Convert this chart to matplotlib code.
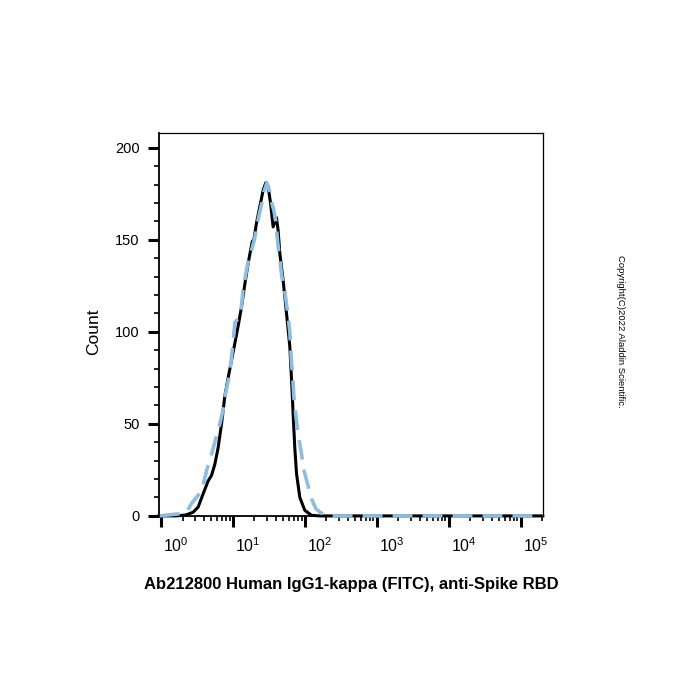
import numpy as np
import matplotlib
matplotlib.use("Agg")
import matplotlib.pyplot as plt
import matplotlib.transforms as mtrans
from matplotlib.ticker import LogLocator, MultipleLocator, FixedLocator

plt.rcParams['font.family'] = ['Liberation Sans', 'DejaVu Sans']
plt.rcParams['mathtext.fontset'] = 'custom'
plt.rcParams['mathtext.rm'] = 'Liberation Sans'
plt.rcParams['mathtext.it'] = 'Liberation Sans'

# sample (black, solid) - fluorescence intensity vs count
black_x = [0.94, 1.62, 2.22, 2.81, 3.30, 3.87, 4.54, 5.06, 5.62, 6.25, 6.97, 7.74, 8.61, 9.59,
           10.7, 11.9, 13.2, 14.7, 16.3, 17.6, 18.6, 19.6, 21.3, 23.7, 26.4, 28.7, 30.9, 33.4,
           36.3, 40.4, 42.6, 45.0, 50.0, 55.7, 61.9, 65.4, 68.8, 72.6, 76.7, 85.3, 100, 124,
           161, 202000]
black_y = [0, 0, 0.5, 2, 4.8, 12, 19, 22, 28, 37, 50, 65, 75, 84.5,
           94, 103.5, 113.5, 126, 137, 144, 149, 150, 159, 168, 177, 181, 179, 170,
           157, 162, 155, 142.5, 128, 110, 92, 74, 55.5, 37, 23, 10, 3, 0.3,
           0, 0]

# isotype / reference (light blue, dashed)
blue_x = [0.97, 2.22, 2.70, 3.27, 3.83, 4.35, 4.95, 5.62, 6.60, 7.27, 8.00, 8.80, 9.53, 10.0,
          10.7, 11.7, 12.9, 13.8, 15.4, 16.7, 18.4, 20.2, 22.2, 25.3, 27.0, 29.7, 32.6, 34.8,
          37.1, 39.5, 42.2, 48.0, 52.7, 58.0, 61.9, 64.9, 68.1, 70.3, 75.0, 80.0, 88.0, 96.8,
          110, 125, 142, 162, 196, 261, 202000]
blue_y = [0, 1.5, 7, 11, 16, 25, 32, 40, 50, 57, 67, 75, 85, 93,
          105, 107, 110, 122, 133, 140, 145, 151, 160, 170, 176, 181, 176, 170,
          166, 160, 148, 130, 122, 110, 100, 85, 75, 65, 55, 45, 36, 25,
          17, 9, 4, 2, 0.3, 0, 0]

y_major = [0, 50, 100, 150, 200]
x_decades = [1, 10, 100, 1000, 10000, 100000]
x_labels = [r'$10^{0}$', r'$10^{1}$', r'$10^{2}$', r'$10^{3}$', r'$10^{4}$', r'$10^{5}$']

fig = plt.figure(figsize=(7, 7), dpi=100)
ax = fig.add_axes([0.227, 0.263, 0.549, 0.547])

ax.plot(black_x, black_y, color='black', lw=2.2, zorder=3, clip_on=False)
ax.plot(blue_x, blue_y, color='#8dbde0', lw=2.6, ls=(0, (5.5, 2.8)), zorder=4, clip_on=False)

ax.set_xscale('log')
ax.set_xlim(0.94, 2.05e5)
ax.set_ylim(0, 208)

ax.xaxis.set_major_locator(FixedLocator(x_decades))
ax.set_xticklabels(x_labels, fontsize=11.5)
ax.xaxis.set_minor_locator(LogLocator(base=10, subs=np.arange(2, 10), numticks=20))
ax.xaxis.set_minor_formatter(matplotlib.ticker.NullFormatter())
ax.yaxis.set_major_locator(FixedLocator(y_major))
ax.yaxis.set_minor_locator(MultipleLocator(10))
ax.tick_params(axis='both', which='major', direction='out', length=8, width=2.2)
ax.tick_params(axis='y', which='major', labelsize=10.5)
ax.tick_params(axis='both', which='minor', direction='out', length=3.5, width=1.2)
ax.tick_params(axis='x', which='major', pad=7)
ax.tick_params(axis='y', which='major', pad=6)
off = mtrans.ScaledTranslation(0.15, 0, fig.dpi_scale_trans)
for lab in ax.get_xticklabels():
    lab.set_transform(lab.get_transform() + off)

for s in ['top', 'right']:
    ax.spines[s].set_linewidth(0.9)
for s in ['left', 'bottom']:
    ax.spines[s].set_linewidth(1.3)

ax.set_ylabel('Count', fontsize=12.5)
ax.yaxis.set_label_coords(-0.15, 0.48)
ax.set_xlabel('Ab212800 Human IgG1-kappa (FITC), anti-Spike RBD', fontsize=12, fontweight='bold')
ax.xaxis.set_label_coords(0.5, -0.16)

fig.text(0.887, 0.527, 'Copyright(C)2022 Aladdin Scientific.', rotation=270, fontsize=6.8,
         ha='center', va='center')

fig.savefig('out.png', dpi=100, facecolor='white')
